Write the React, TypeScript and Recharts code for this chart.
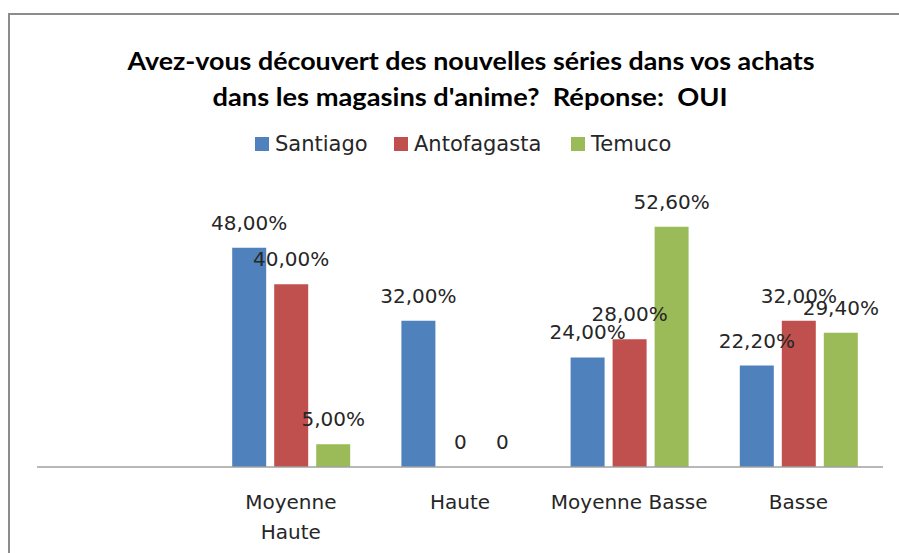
import { BarChart, Bar, XAxis, YAxis, LabelList } from "recharts";

const categories = ["", "Moyenne\nHaute", "Haute", "Moyenne Basse", "Basse"];
const santiago = [null, 48, 32, 24, 22.2];
const antofagasta = [null, 40, 0, 28, 32];
const temuco = [null, 5, 0, 52.6, 29.4];

const seriesNames = ["Santiago", "Antofagasta", "Temuco"];
const seriesColors = ["#4F81BD", "#C0504D", "#9BBB59"];

const titleLines = [
  "Avez-vous découvert des nouvelles séries dans vos achats",
  "dans les magasins d'anime?  Réponse:  OUI",
];

const data = categories.map((c, i) => ({
  name: c,
  s0: santiago[i],
  s1: antofagasta[i],
  s2: temuco[i],
}));

const fmt = (v: any) => {
  if (v === null || v === undefined) return "";
  if (v === 0) return "0";
  return Number(v).toFixed(2).replace(".", ",") + "%";
};

const FONT = "'DejaVu Sans', sans-serif";

function CatTick(props: any) {
  const { x, y, payload } = props;
  const lines = String(payload.value).split("\n");
  return (
    <g>
      {lines.map((l, i) => (
        <text
          key={i}
          x={x}
          y={y + 42 + i * 30}
          textAnchor="middle"
          fontFamily={FONT}
          fontSize={20}
          fill="#262626"
        >
          {l}
        </text>
      ))}
    </g>
  );
}

// value label drawn above each bar, also for zero values
function ValueLabel(props: any) {
  const { x, y, width, height, value } = props;
  const txt = fmt(value);
  if (!txt) return null;
  const top = Math.min(y, y + height);
  return (
    <text
      x={x + width / 2}
      y={top - 18}
      textAnchor="middle"
      fontFamily={FONT}
      fontSize={20}
      fill="#262626"
    >
      {txt}
    </text>
  );
}

// legend x positions of the squares
const legendSquareX = [255, 394, 571];

export default function App() {
  return (
    <div
      style={{
        position: "absolute",
        left: 0,
        top: 0,
        width: 899,
        height: 553,
        overflow: "hidden",
        background: "#fff",
      }}
    >
      <div
        style={{
          position: "absolute",
          left: 8,
          top: 13,
          width: 920,
          height: 580,
          borderTop: "2px solid #8c8c8c",
          borderLeft: "2px solid #8c8c8c",
        }}
      />
      <div style={{ position: "absolute", left: 0, top: 0 }}>
        <BarChart
          width={899}
          height={553}
          data={data}
          margin={{ top: 193, right: 16, bottom: 0, left: 37 }}
          barSize={34}
          barGap={8}
        >
          <XAxis
            dataKey="name"
            height={86}
            tickLine={false}
            tickSize={0}
            tickMargin={0}
            interval={0}
            axisLine={{ stroke: "#a0a0a0", strokeWidth: 1.5 }}
            tick={<CatTick />}
          />
          <YAxis hide domain={[0, 60]} />
          {["s0", "s1", "s2"].map((k, i) => (
            <Bar
              key={k}
              dataKey={k}
              name={seriesNames[i]}
              fill={seriesColors[i]}
              minPointSize={0.01}
              isAnimationActive={false}
            >
              <LabelList dataKey={k} content={<ValueLabel />} />
            </Bar>
          ))}
        </BarChart>
      </div>
      <svg
        width={899}
        height={553}
        style={{ position: "absolute", left: 0, top: 0, pointerEvents: "none" }}
      >
        <text
          x={471}
          y={70}
          textAnchor="middle"
          fontFamily="Lato, 'Open Sans', sans-serif"
          fontWeight="bold"
          fontSize={25}
          textLength={687}
          lengthAdjust="spacingAndGlyphs"
          fill="#000"
          style={{ whiteSpace: "pre" }}
        >
          {titleLines[0]}
        </text>
        <text
          x={470}
          y={106}
          textAnchor="middle"
          fontFamily="Lato, 'Open Sans', sans-serif"
          fontWeight="bold"
          fontSize={25}
          textLength={515}
          lengthAdjust="spacingAndGlyphs"
          fill="#000"
          style={{ whiteSpace: "pre" }}
        >
          {titleLines[1]}
        </text>
        {seriesNames.map((n, i) => (
          <g key={n}>
            <rect
              x={legendSquareX[i]}
              y={137}
              width={14}
              height={14}
              fill={seriesColors[i]}
            />
            <text
              x={legendSquareX[i] + 20}
              y={151}
              fontFamily={FONT}
              fontSize={21}
              fill="#262626"
            >
              {n}
            </text>
          </g>
        ))}
      </svg>
    </div>
  );
}
